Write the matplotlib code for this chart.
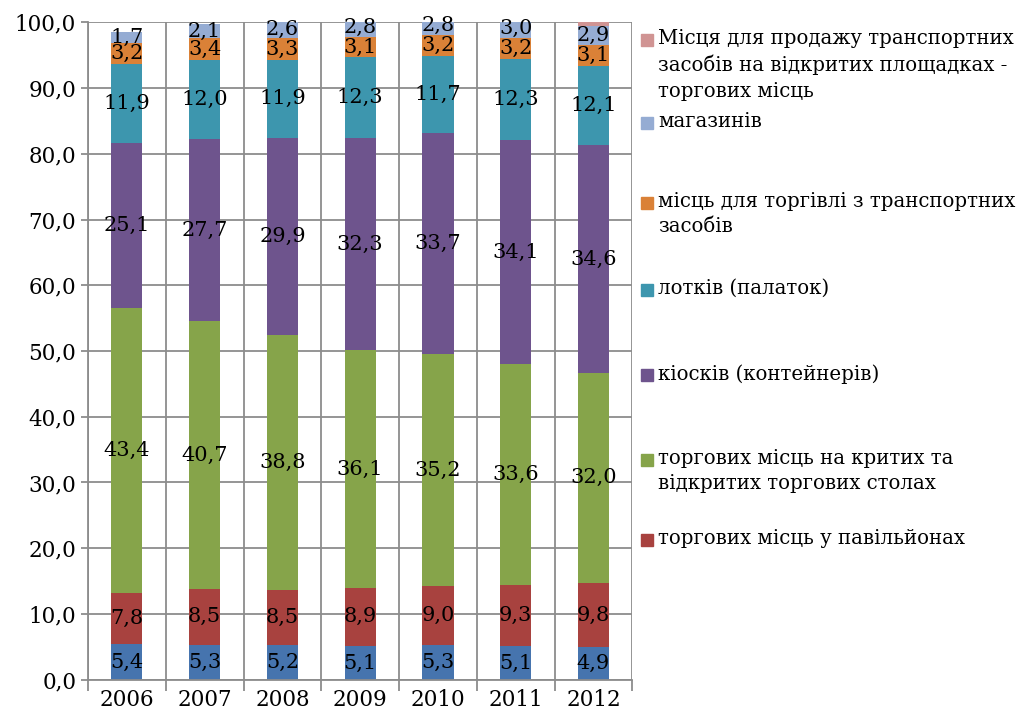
import matplotlib.pyplot as plt
import numpy as np
from matplotlib.patches import Rectangle

plt.rcParams['font.family'] = ['DejaVu Serif']

years = ['2006', '2007', '2008', '2009', '2010', '2011', '2012']

shops_small = [5.4, 5.3, 5.2, 5.1, 5.3, 5.1, 4.9]
pavilions = [7.8, 8.5, 8.5, 8.9, 9.0, 9.3, 9.8]
tables = [43.4, 40.7, 38.8, 36.1, 35.2, 33.6, 32.0]
kiosks = [25.1, 27.7, 29.9, 32.3, 33.7, 34.1, 34.6]
stalls = [11.9, 12.0, 11.9, 12.3, 11.7, 12.3, 12.1]
vehicles = [3.2, 3.4, 3.3, 3.1, 3.2, 3.2, 3.1]
stores = [1.7, 2.1, 2.6, 2.8, 2.8, 3.0, 2.9]
car_sales = [0, 0, 0, 0, 0, 0, 0.6]

series = [shops_small, pavilions, tables, kiosks, stalls, vehicles, stores, car_sales]
colors = ['#4674AE', '#A8423F', '#86A44A', '#6E548D', '#3D96AE', '#DA8137', '#95ACD3', '#D09493']
show_labels = [True, True, True, True, True, True, True, False]

legend_labels = [
    None,
    'торгових місць у павільйонах',
    'торгових місць на критих та\nвідкритих торгових столах',
    'кіосків (контейнерів)',
    'лотків (палаток)',
    'місць для торгівлі з транспортних\nзасобів',
    'магазинів',
    'Місця для продажу транспортних\nзасобів на відкритих площадках -\nторгових місць',
]

fig = plt.figure(figsize=(10.35, 7.2), dpi=100)
ax = fig.add_axes([0.085, 0.056, 0.526, 0.913])

x = np.arange(len(years))
bottom = np.zeros(len(years))
for vals, col, lab in zip(series, colors, show_labels):
    vals = np.array(vals)
    ax.bar(x, vals, width=0.4, bottom=bottom, color=col, zorder=2)
    if lab:
        for xi, b, v in zip(x, bottom, vals):
            ax.text(xi, b + v / 2, f'{v:.1f}'.replace('.', ','), ha='center',
                    va='center', fontsize=15, zorder=3)
    bottom += vals

ax.set_xlim(-0.5, len(years) - 0.5)
ax.set_ylim(0, 100)
ax.set_yticks(np.arange(0, 101, 10))
ax.set_yticklabels([f'{v:.1f}'.replace('.', ',') for v in np.arange(0, 101, 10)], fontsize=15.5)
ax.set_xticks(x)
ax.set_xticklabels(years, fontsize=15.5)
ax.tick_params(axis='x', length=0, pad=7)
ax.tick_params(axis='y', length=5, color='#8c8c8c', width=1.3)
ax.set_xticks(np.arange(-0.5, len(years), 1), minor=True)
ax.tick_params(axis='x', which='minor', length=8, color='#8c8c8c', width=1.3)
ax.grid(True, axis='y', color='#8c8c8c', linewidth=1.3, zorder=0)
ax.grid(True, axis='x', which='minor', color='#8c8c8c', linewidth=1.3, zorder=0)
ax.set_axisbelow(True)
for s in ['top', 'right']:
    ax.spines[s].set_visible(False)
for s in ['left', 'bottom']:
    ax.spines[s].set_color('#8c8c8c')
    ax.spines[s].set_linewidth(1.3)

# legend, top entry first
ys = [40, 123, 203, 290, 375, 460, 540]
for i, y in enumerate(ys):
    idx = len(series) - 1 - i
    fy = 1 - y / 720
    fig.patches.append(Rectangle((641 / 1035, fy - 6 / 720), 12 / 1035, 12 / 720,
                                 transform=fig.transFigure, color=colors[idx]))
    fig.text(658 / 1035, fy + 11 / 720, legend_labels[idx], ha='left', va='top',
             fontsize=14.2, linespacing=1.42)

fig.savefig('out.png', dpi=100)
